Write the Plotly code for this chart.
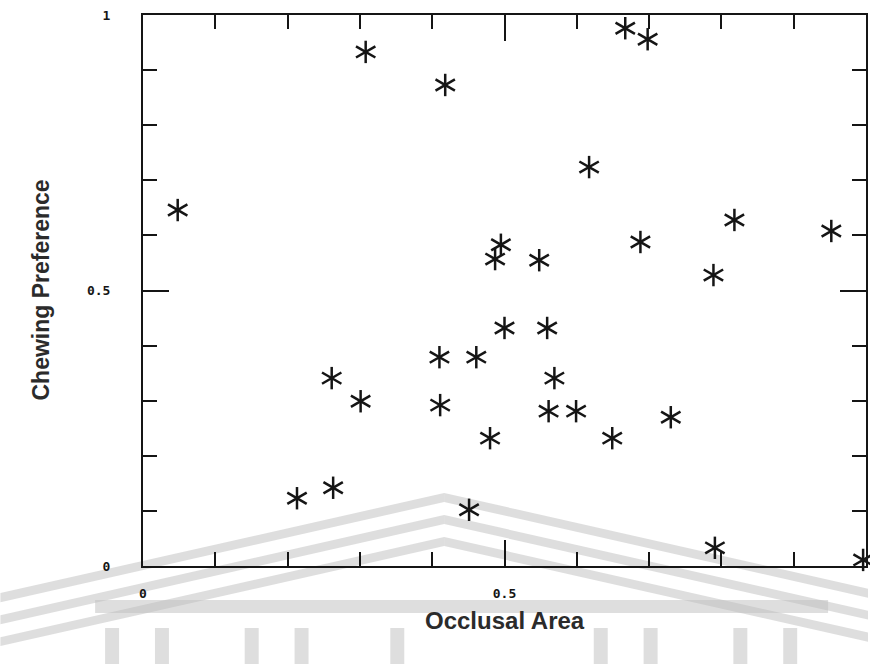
import plotly.graph_objects as go

# Occlusal area vs chewing preference (normalised scores)
occlusal_area = [0.048, 0.308, 0.418, 0.667, 0.698, 0.617, 0.818, 0.952, 0.688, 0.789,
                 0.495, 0.487, 0.548, 0.500, 0.559, 0.410, 0.461, 0.569, 0.261, 0.301,
                 0.411, 0.561, 0.599, 0.730, 0.480, 0.649, 0.213, 0.263, 0.451, 0.791,
                 0.996]
chewing_pref = [0.646, 0.933, 0.873, 0.976, 0.956, 0.724, 0.628, 0.608, 0.588, 0.528,
                0.583, 0.557, 0.555, 0.432, 0.432, 0.379, 0.379, 0.341, 0.341, 0.299,
                0.292, 0.281, 0.281, 0.270, 0.232, 0.232, 0.123, 0.142, 0.102, 0.033,
                0.011]

x_tick_vals = [0, 0.5]
x_tick_text = ["0", "0.5"]
y_tick_vals = [0, 0.5, 1]
y_tick_text = ["0", "0.5", "1"]

W, H = 870, 664
ML, MR, MT, MB = 143, 2, 15, 98
PW, PH = W - ML - MR, H - MT - MB

INK = "#151515"
WM = "rgba(190,190,190,0.5)"


def px(x, y):
    """pixel position -> paper coordinates"""
    return (x - ML) / PW, (H - MB - y) / PH


fig = go.Figure()

# six-armed asterisk: one vertical stroke plus two strokes at +/-30 degrees
for sym, ang in [("line-ns-open", 0), ("line-ew-open", 30), ("line-ew-open", -30)]:
    fig.add_trace(go.Scatter(
        x=occlusal_area, y=chewing_pref, mode="markers",
        marker=dict(symbol=sym, angle=ang, size=16, color=INK,
                    line=dict(color=INK, width=2.5)),
        cliponaxis=False, showlegend=False, hoverinfo="skip",
    ))

# faint pediment emblem behind the chart
shapes = []
apex_x, apex_y = 445, 493
slope = 0.225
for off in (0, 22, 44):
    for sgn, xend in ((-1, 0), (1, 870)):
        ya = apex_y + off
        yb = ya + abs(xend - apex_x) * slope
        pts = [px(apex_x, ya), px(xend, yb), px(xend, yb + 9), px(apex_x, ya + 9)]
        path = "M" + "L".join(f"{a:.4f},{b:.4f}" for a, b in pts) + "Z"
        shapes.append(dict(type="path", path=path, xref="paper", yref="paper",
                           fillcolor=WM, line=dict(width=0), layer="below"))

x0, y0 = px(95, 600)
x1, y1 = px(830, 613)
shapes.append(dict(type="rect", x0=x0, y0=y0, x1=x1, y1=y1, xref="paper", yref="paper",
                   fillcolor=WM, line=dict(width=0), layer="below"))
for cx in (112, 162, 252, 302, 398, 602, 652, 742, 792):
    a0, b0 = px(cx - 7, 628)
    a1, b1 = px(cx + 7, 664)
    shapes.append(dict(type="rect", x0=a0, y0=b0, x1=a1, y1=b1, xref="paper", yref="paper",
                       fillcolor=WM, line=dict(width=0), layer="below"))

tick_font = dict(family="DejaVu Sans Mono", size=13, color=INK)
axis_common = dict(
    showline=True, linecolor=INK, linewidth=2, mirror="ticks",
    ticks="inside", ticklen=26, tickwidth=2, tickcolor=INK,
    showgrid=False, zeroline=False, tickfont=tick_font,
    minor=dict(dtick=0.1, tick0=0, ticks="inside", ticklen=14, tickwidth=2,
               tickcolor=INK, showgrid=False),
)

fig.update_layout(
    width=W, height=H,
    margin=dict(l=ML, r=MR, t=MT, b=MB, pad=0),
    paper_bgcolor="white", plot_bgcolor="rgba(0,0,0,0)",
    shapes=shapes,
    xaxis=dict(range=[0, 1], tickmode="array", tickvals=x_tick_vals,
               ticktext=[f"<b>{t}</b>" for t in x_tick_text],
               ticklabelstandoff=14, **axis_common),
    yaxis=dict(range=[0, 1], tickmode="array", tickvals=y_tick_vals,
               ticktext=[f"<b>{t}</b>" for t in y_tick_text],
               ticklabelstandoff=28, **axis_common),
    annotations=[
        dict(text="<b>Occlusal Area</b>", xref="paper", yref="paper", x=0.5, y=0,
             yshift=-54, showarrow=False, xanchor="center", yanchor="middle",
             font=dict(family="Liberation Sans, Arial", size=24, color="#2b2b2b")),
        dict(text="<b>Chewing Preference</b>", xref="paper", yref="paper", x=0, y=0.5,
             xshift=-103, showarrow=False, textangle=-90, xanchor="center", yanchor="middle",
             font=dict(family="Liberation Sans, Arial", size=23, color="#2b2b2b")),
    ],
)

fig.write_html("out.html")
